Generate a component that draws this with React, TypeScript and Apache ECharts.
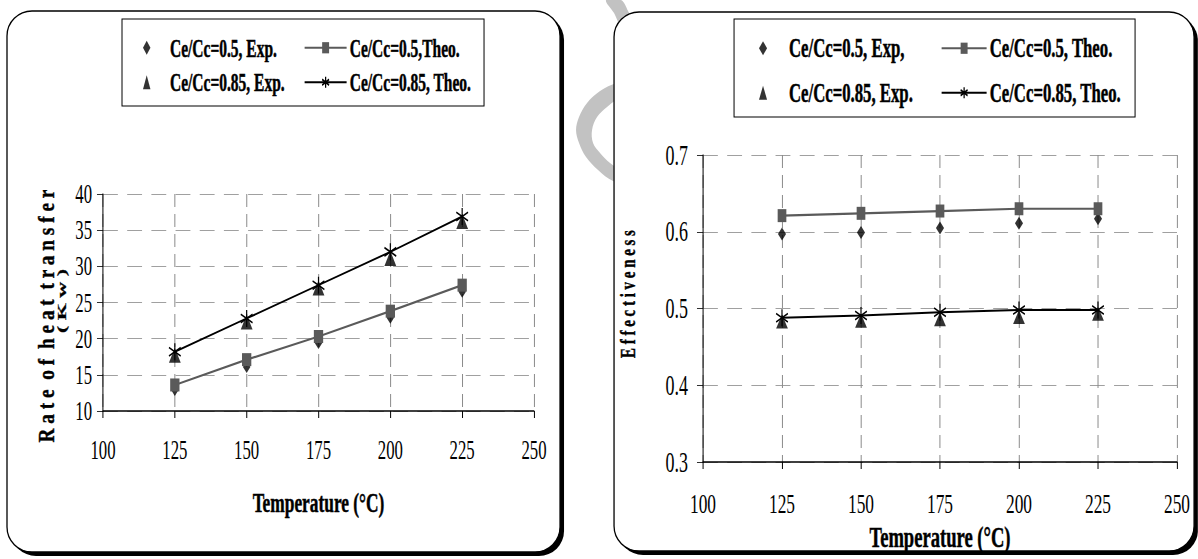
import React, { useEffect, useRef } from "react";
import * as echarts from "echarts";

// ---------- data ----------
const temperatures = [125, 150, 175, 200, 225];

const heatExp05 = [12.9, 16.1, 19.4, 22.9, 26.5];
const heatTheo05 = [13.6, 17.1, 20.3, 23.8, 27.4];
const heatExp085 = [17.7, 22.3, 27.0, 31.1, 36.2];
const heatTheo085 = [18.2, 22.8, 27.4, 32.0, 36.9];

const effExp05 = [0.597, 0.599, 0.605, 0.611, 0.617];
const effTheo05 = [0.621, 0.624, 0.627, 0.63, 0.63];
const effExp085 = [0.483, 0.484, 0.486, 0.489, 0.493];
const effTheo085 = [0.488, 0.491, 0.495, 0.498, 0.498];

const leftNames = ["Ce/Cc=0.5, Exp.", "Ce/Cc=0.5,Theo.", "Ce/Cc=0.85, Exp.", "Ce/Cc=0.85, Theo."];
const rightNames = ["Ce/Cc=0.5, Exp,", "Ce/Cc=0.5, Theo.", "Ce/Cc=0.85, Exp.", "Ce/Cc=0.85, Theo."];

const xTitle = "Temperature (°C)";
const leftYTitle = "R a t e  o f  h e a t  t r a n s f e r";
const leftYUnit = "( K w )";
const rightYTitle = "E f f e c t i v e n e s s";

// ---------- layout helpers ----------
const W = 1198;
const H = 559;
const S = 0.62; // horizontal condensing of the whole figure
const vx = (x: number) => x / S;
const FONT = '"Liberation Serif", "Times New Roman", serif';
const STAR = "path://M10,0 L10,20 M1.34,5 L18.66,15 M1.34,15 L18.66,5";
const GRAY = "#5a5a5a";
const WM = "#c2c2c2";

const pair = (xs: number[], ys: number[]) => xs.map((x, i) => [x, ys[i]]);

function xAxis(gridIndex: number, nameGap: number, nameSize: number, labelMargin: number, labelSize: number) {
  return {
    type: "value",
    gridIndex,
    min: 100,
    max: 250,
    interval: 25,
    name: xTitle,
    nameLocation: "middle",
    nameGap,
    nameTextStyle: {
      fontFamily: FONT, fontWeight: "bold", fontSize: nameSize, color: "#000",
      textBorderColor: "#000", textBorderWidth: 0.5,
    },
    axisLine: { show: true, onZero: false, lineStyle: { color: "#000", width: 1.5 } },
    axisTick: { show: true, inside: false, length: 7, lineStyle: { color: "#000", width: 1.6 } },
    axisLabel: { fontFamily: FONT, fontSize: labelSize, color: "#000", margin: labelMargin },
    splitLine: { show: true, lineStyle: { color: "#8a8a8a", width: 1.6, type: [13, 7] } },
  };
}

function yAxis(gridIndex: number, min: number, max: number, interval: number, margin: number, labelSize: number, fmt?: (v: number) => string) {
  return {
    type: "value",
    gridIndex,
    min,
    max,
    interval,
    axisLine: { show: true, onZero: false, lineStyle: { color: "#000", width: 1.6 } },
    axisTick: { show: true, inside: false, length: vx(6), lineStyle: { color: "#000", width: 1 } },
    axisLabel: { fontFamily: FONT, fontSize: labelSize, color: "#000", margin, formatter: fmt },
    splitLine: { show: true, lineStyle: { color: "#8a8a8a", width: 1, type: [24, 15] } },
  };
}

function realRect(x: number, y: number, w: number, h: number, r: number, style: any, z: number) {
  return { type: "rect", x: 0, y: 0, scaleX: 1 / S, shape: { x, y, width: w, height: h, r }, style, z, silent: true };
}

function realPoly(points: number[][], fill: string, z: number) {
  return { type: "polygon", x: 0, y: 0, scaleX: 1 / S, shape: { points, smooth: 0.35 }, style: { fill }, z, silent: true };
}

function legendCol(data: string[], left: number, top: number, iw: number, ih: number, gap: number, fs: number, padLeft: number) {
  return {
    data,
    orient: "vertical",
    left,
    top,
    itemWidth: iw,
    itemHeight: ih,
    itemGap: gap,
    padding: 0,
    selectedMode: false,
    textStyle: {
      fontFamily: FONT, fontWeight: "bold", fontSize: fs, color: "#000", padding: [0, 0, 0, padLeft],
      textBorderColor: "#000", textBorderWidth: 0.5,
    },
  };
}

function rotatedTitle(text: string, x: number, y: number, fs: number, sx: number, sy: number) {
  return {
    type: "text", x: vx(x), y, rotation: Math.PI / 2, scaleX: sx, scaleY: sy / S, z: 10, silent: true,
    style: {
      text, fontFamily: FONT, fontWeight: "bold", fontSize: fs, fill: "#000",
      stroke: "#000", lineWidth: 0.4, align: "center", verticalAlign: "middle",
    },
  };
}

function buildOption() {
  const series: any[] = [
    // left chart
    {
      name: leftNames[1], type: "line", xAxisIndex: 0, yAxisIndex: 0, data: pair(temperatures, heatTheo05),
      symbol: "rect", symbolSize: [15, 13], lineStyle: { color: GRAY, width: 2.2 }, itemStyle: { color: GRAY },
    },
    {
      name: leftNames[3], type: "line", xAxisIndex: 0, yAxisIndex: 0, data: pair(temperatures, heatTheo085),
      symbol: STAR, symbolSize: [19, 17], lineStyle: { color: "#000", width: 2 },
      itemStyle: { color: "#000", borderColor: "#000", borderWidth: 1.8 },
    },
    {
      name: leftNames[0], type: "scatter", xAxisIndex: 0, yAxisIndex: 0, data: pair(temperatures, heatExp05),
      symbol: "diamond", symbolSize: [12, 12], itemStyle: { color: "#000" },
    },
    {
      name: leftNames[2], type: "scatter", xAxisIndex: 0, yAxisIndex: 0, data: pair(temperatures, heatExp085),
      symbol: "triangle", symbolSize: [19, 15], itemStyle: { color: "#000" },
    },
    // right chart
    {
      name: rightNames[1], type: "line", xAxisIndex: 1, yAxisIndex: 1, data: pair(temperatures, effTheo05),
      symbol: "rect", symbolSize: [14, 13], lineStyle: { color: GRAY, width: 2.2 }, itemStyle: { color: GRAY },
    },
    {
      name: rightNames[3], type: "line", xAxisIndex: 1, yAxisIndex: 1, data: pair(temperatures, effTheo085),
      symbol: STAR, symbolSize: [19, 17], lineStyle: { color: "#000", width: 2 },
      itemStyle: { color: "#000", borderColor: "#000", borderWidth: 1.8 },
    },
    {
      name: rightNames[0], type: "scatter", xAxisIndex: 1, yAxisIndex: 1, data: pair(temperatures, effExp05),
      symbol: "diamond", symbolSize: [13, 13], itemStyle: { color: "#000" },
    },
    {
      name: rightNames[2], type: "scatter", xAxisIndex: 1, yAxisIndex: 1, data: pair(temperatures, effExp085),
      symbol: "triangle", symbolSize: [19, 14], itemStyle: { color: "#000" },
    },
  ];

  const elements: any[] = [
    // watermark (partly hidden behind the right panel)
    realPoly(
      [[617, 83], [600, 91], [587, 103], [579, 117], [576, 130], [579, 143], [586, 157], [598, 170], [613, 181], [632, 184],
       [632, 167], [617, 167], [610, 163], [600, 153], [593, 143], [592, 130], [597, 117], [607, 107], [617, 100], [632, 98], [632, 83]],
      WM, -20
    ),
    realPoly([[606, 0], [621, 0], [628, 11], [633, 24], [622, 27], [614, 13]], WM, -20),
    // panels
    realRect(11, 15, 553, 541, 25, { fill: "#000" }, -12),
    realRect(7, 11, 553, 541, 25, { fill: "#fff", stroke: "#000", lineWidth: 1.3 }, -11),
    realRect(618, 16, 580, 539, 25, { fill: "#000" }, -12),
    realRect(614, 12, 580, 539, 25, { fill: "#fff", stroke: "#000", lineWidth: 1.3 }, -11),
    // legend boxes
    realRect(122, 19, 362, 87, 0, { fill: "none", stroke: "#000", lineWidth: 1 }, -5),
    realRect(734, 19, 401, 98, 0, { fill: "none", stroke: "#000", lineWidth: 1 }, -5),
    // rotated y titles
    rotatedTitle(leftYTitle, 46, 316, 23, 0.84, 1),
    rotatedTitle(leftYUnit, 62, 301, 20, 1.1, 0.6),
    rotatedTitle(rightYTitle, 627, 294, 22, 0.68, 1),
  ];

  return {
    animation: false,
    backgroundColor: "transparent",
    textStyle: { fontFamily: FONT },
    grid: [
      { left: vx(103), top: 194, width: vx(534 - 103), height: 217, outerBoundsMode: "none", containLabel: false },
      { left: vx(703), top: 155, width: vx(1177 - 703), height: 307, outerBoundsMode: "none", containLabel: false },
    ],
    xAxis: [xAxis(0, 77, 28, 25, 27), xAxis(1, 56, 30, 27, 28)],
    yAxis: [
      yAxis(0, 10, 40, 5, vx(11), 27),
      yAxis(1, 0.3, 0.7, 0.1, vx(15), 29, (v: number) => v.toFixed(1)),
    ],
    legend: [
      legendCol([leftNames[0], leftNames[2]], vx(143), 35, 12, 14, 9, 25, vx(170) - vx(143) - 12 - 5),
      legendCol([leftNames[1], leftNames[3]], vx(304), 35, vx(42), 14, 9, 25, 0),
      legendCol([rightNames[0], rightNames[2]], vx(759), 34.5, 13, 14, 17, 27, vx(789) - vx(759) - 13 - 5),
      legendCol([rightNames[1], rightNames[3]], vx(941), 34.5, vx(45), 14, 17, 27, 0),
    ],
    graphic: { elements },
    series,
  };
}

export default function App() {
  const ref = useRef<HTMLDivElement>(null);
  useEffect(() => {
    if (!ref.current) return;
    const chart = echarts.init(ref.current, undefined, { renderer: "svg" });
    chart.setOption(buildOption() as any);
    return () => chart.dispose();
  }, []);
  return (
    <div style={{ position: "fixed", left: 0, top: 0, width: W, height: H, overflow: "hidden", background: "#fff" }}>
      <div ref={ref} style={{ width: W / S, height: H, transform: `scaleX(${S})`, transformOrigin: "0 0" }} />
    </div>
  );
}
